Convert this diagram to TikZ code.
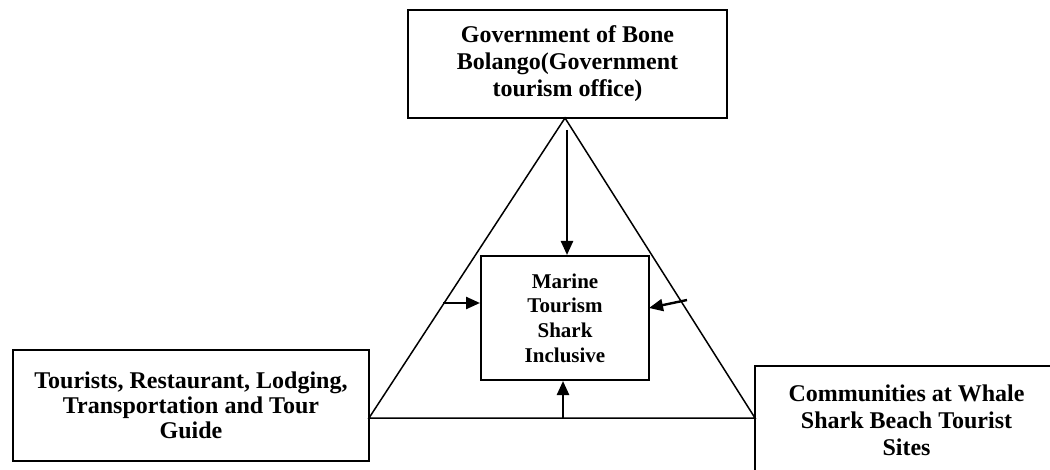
\documentclass[tikz,border=0pt]{standalone}
\usepackage{fontspec}
\setmainfont{Liberation Serif}
\usetikzlibrary{arrows.meta}
\begin{document}
\begin{tikzpicture}[x=1pt,y=-1pt,
  box/.style={draw,line width=2pt,inner sep=0pt,align=center},
  bigtext/.style={font=\fontsize{24}{27}\selectfont\bfseries},
  lefttext/.style={font=\fontsize{24}{25}\selectfont\bfseries},
  midtext/.style={font=\fontsize{21}{24.7}\selectfont\bfseries},
  tri/.style={line width=1.5pt},
  arr/.style={line width=2.4pt,-{Triangle[length=14pt,width=12pt]}}]
\clip (0,0) rectangle (1050,470);
\fill[white] (0,0) rectangle (1050,470);
\node[box,bigtext,minimum width=319pt,minimum height=108pt] (gov) at (567.5,64) {Government of Bone\\Bolango(Government\\tourism office)};
\node[box,midtext,minimum width=168pt,minimum height=124pt] (ctr) at (565,318) {Marine\\Tourism\\Shark\\Inclusive};
\node[box,lefttext,minimum width=356pt,minimum height=111pt] (tour) at (191,405.5) {Tourists, Restaurant, Lodging,\\Transportation and Tour\\Guide};
\node[box,bigtext,minimum width=303pt,minimum height=108pt] (comm) at (906.5,420) {Communities at Whale\\Shark Beach Tourist\\Sites};
\coordinate (apex) at (565,118);
\coordinate (lv) at (369,418);
\coordinate (rv) at (755,418);
\draw[tri] (apex) -- (lv) -- (rv) -- cycle;
\coordinate (dtail) at (567,130);
\coordinate (ltail) at (443,303);
\coordinate (rtail) at (687,300);
\coordinate (utail) at (563,418);
\draw[arr] (dtail) -- (dtail |- ctr.north);
\draw[arr] (ltail) -- (ltail -| ctr.west);
\draw[arr] (rtail) -- (649,308);
\draw[arr] (utail) -- (utail |- ctr.south);
\end{tikzpicture}
\end{document}
